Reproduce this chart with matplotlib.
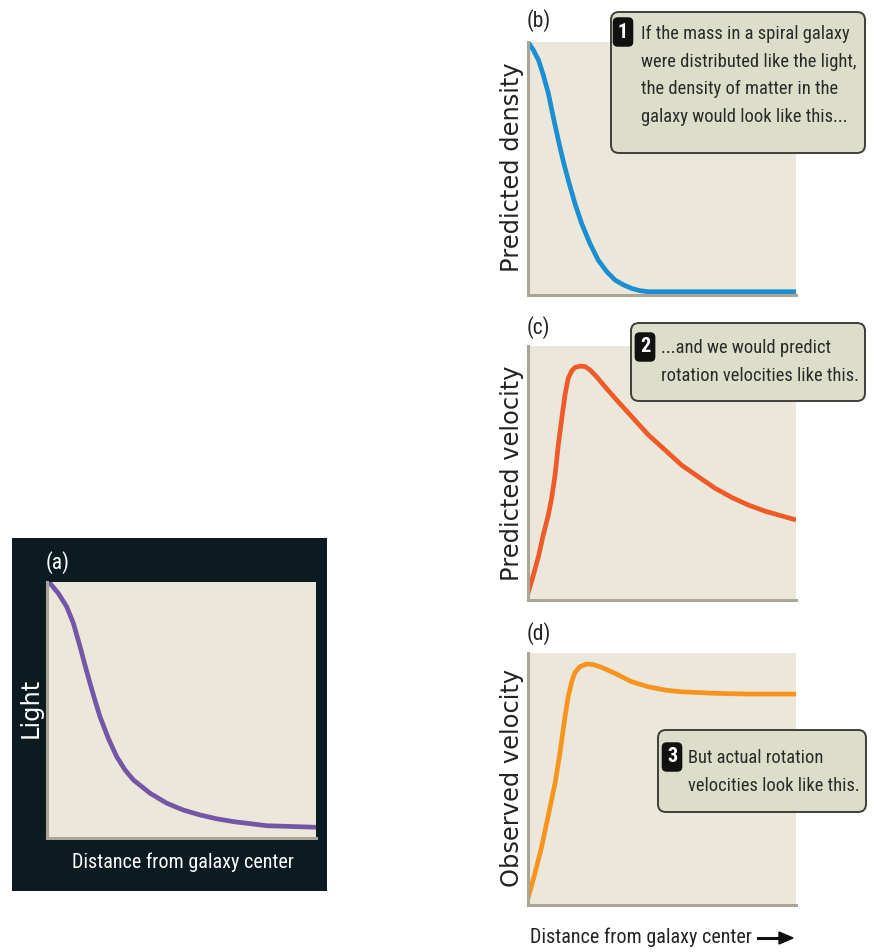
import matplotlib
matplotlib.use("Agg")
import matplotlib.pyplot as plt
from matplotlib import font_manager
from matplotlib.patches import FancyBboxPatch, Rectangle

# curve samples, distance from centre (0..1) vs. normalised value
light_x = [0, 0.011, 0.042, 0.073, 0.098, 0.123, 0.141, 0.16, 0.178, 0.197, 0.228, 0.259, 0.29,
           0.321, 0.383, 0.445, 0.507, 0.569, 0.631, 0.693, 0.817, 1.0]
light_y = [1.0, 0.995, 0.956, 0.904, 0.839, 0.747, 0.676, 0.604, 0.539, 0.474, 0.389, 0.318, 0.266,
           0.227, 0.175, 0.136, 0.109, 0.09, 0.075, 0.064, 0.048, 0.042]

dens_x = [0, 0.02, 0.039, 0.057, 0.076, 0.094, 0.113, 0.132, 0.15, 0.175, 0.2, 0.231, 0.262,
          0.294, 0.325, 0.356, 0.387, 0.418, 0.449, 0.55, 0.7, 1.0]
dens_y = [1.0, 0.968, 0.929, 0.87, 0.797, 0.705, 0.613, 0.527, 0.455, 0.362, 0.283, 0.204, 0.138,
          0.092, 0.059, 0.04, 0.026, 0.017, 0.013, 0.013, 0.013, 0.013]

pred_x = [0, 0.02, 0.039, 0.057, 0.076, 0.088, 0.101, 0.113, 0.126, 0.138, 0.15, 0.163, 0.175,
          0.194, 0.213, 0.231, 0.256, 0.287, 0.325, 0.387, 0.449, 0.511, 0.573, 0.636, 0.698,
          0.76, 0.822, 0.884, 0.947, 1.0]
pred_y = [0.026, 0.098, 0.171, 0.256, 0.335, 0.4, 0.492, 0.61, 0.715, 0.807, 0.873, 0.902, 0.915,
          0.921, 0.919, 0.906, 0.879, 0.84, 0.794, 0.722, 0.65, 0.591, 0.531, 0.485, 0.44,
          0.404, 0.374, 0.35, 0.331, 0.315]

obs_x = [0, 0.026, 0.051, 0.076, 0.101, 0.119, 0.138, 0.15, 0.163, 0.175, 0.194, 0.219, 0.244,
         0.275, 0.325, 0.387, 0.449, 0.511, 0.573, 0.698, 0.822, 1.0]
obs_y = [0.027, 0.126, 0.231, 0.357, 0.483, 0.602, 0.747, 0.827, 0.886, 0.922, 0.946, 0.956, 0.954,
         0.943, 0.919, 0.886, 0.866, 0.853, 0.846, 0.84, 0.837, 0.837]

panel_tags = ["(a)", "(b)", "(c)", "(d)"]
y_labels = ["Light", "Predicted density", "Predicted velocity", "Observed velocity"]
x_label = "Distance from galaxy center"

note1 = ["If the mass in a spiral galaxy", "were distributed like the light,",
         "the density of matter in the", "galaxy would look like this..."]
note2 = ["...and we would predict", "rotation velocities like this."]
note3 = ["But actual rotation", "velocities look like this."]

W, H = 874, 952
BG = "#ebe8db"
SPINE = "#a9a697"
DARK = "#0c1a22"
INK = "#232323"

installed = {f.name for f in font_manager.fontManager.ttflist}
NARROW = next((n for n in ["Roboto Condensed", "Liberation Sans Narrow", "Open Sans Condensed"]
               if n in installed), "Liberation Sans")
WIDE = "DejaVu Sans"
NOTE_SIZE = 13.3
XLAB_SIZE = 14.5
TAG_SIZE = 15.5
YLAB_SIZE = 17.4

fig = plt.figure(figsize=(W / 100, H / 100), dpi=100)
fig.patch.set_facecolor("white")


def box(x0, y0, x1, y1):
    # pixel rectangle (top-left origin) -> figure fraction
    return [x0 / W, 1 - y1 / H, (x1 - x0) / W, (y1 - y0) / H]


def fx(x):
    return x / W


def fy(y):
    return 1 - y / H


def panel(rect, xs, ys, color):
    ax = fig.add_axes(box(*rect))
    ax.set_facecolor(BG)
    ax.plot(xs, ys, color=color, lw=3.4, solid_capstyle="butt", solid_joinstyle="round")
    ax.set_xlim(0, 1)
    ax.set_ylim(0, 1)
    ax.set_xticks([])
    ax.set_yticks([])
    for s in ("top", "right"):
        ax.spines[s].set_visible(False)
    for s in ("left", "bottom"):
        ax.spines[s].set_color(SPINE)
        ax.spines[s].set_linewidth(2.2)
    return ax


# dark backdrop behind panel (a)
fig.patches.append(Rectangle((fx(12), fy(891)), fx(327) - fx(12), fy(538) - fy(891),
                             transform=fig.transFigure, facecolor=DARK, edgecolor="none", zorder=-1))

panel((47, 582, 316, 838), light_x, light_y, "#7556a6")
panel((528, 42, 796, 295), dens_x, dens_y, "#1b8fd2")
panel((528, 346, 796, 600), pred_x, pred_y, "#f05a28")
panel((528, 653, 796, 905), obs_x, obs_y, "#f7941d")

# panel tags
tag_pos = [(46, 563, "white"), (527, 21, INK), (527, 328, INK), (527, 634, INK)]
for tag, (x, y, c) in zip(panel_tags, tag_pos):
    fig.text(fx(x), fy(y), tag, color=c, family=NARROW, fontsize=TAG_SIZE, va="center")

# y labels
ylab_pos = [(31, 708, "white"), (512, 167, INK), (512, 473, INK), (512, 778, INK)]
for lab, (x, y, c) in zip(y_labels, ylab_pos):
    fig.text(fx(x), fy(y), lab, color=c, family=WIDE, fontsize=YLAB_SIZE,
             rotation=90, ha="center", va="center")

# x labels
fig.text(fx(183), fy(862), x_label, color="white", family=NARROW, fontsize=XLAB_SIZE,
         ha="center", va="center")
fig.text(fx(641), fy(937), x_label, color=INK, family=NARROW, fontsize=XLAB_SIZE,
         ha="center", va="center")
fig.add_artist(plt.Line2D([fx(758), fx(783)], [fy(938), fy(938)], transform=fig.transFigure,
                          color="#111111", lw=2.2))
fig.patches.append(plt.Polygon([[fx(779), fy(932)], [fx(793), fy(938)], [fx(779), fy(944)]],
                               closed=True, transform=fig.transFigure, color="#111111"))


def callout(rect, num, badge_xy, lines, text_x, first_y, step):
    x0, y0, x1, y1 = rect
    p = FancyBboxPatch((x0 / 100, (H - y1) / 100), (x1 - x0) / 100, (y1 - y0) / 100,
                       boxstyle="round,pad=0,rounding_size=0.08",
                       transform=fig.dpi_scale_trans, facecolor="#dcdec9",
                       edgecolor="#3f3f39", lw=1.4, zorder=4)
    fig.patches.append(p)
    fig.text(fx(badge_xy[0]), fy(badge_xy[1]), num, color="white", family=NARROW,
             fontsize=14.5, fontweight="bold", ha="center", va="center", zorder=6,
             bbox=dict(boxstyle="round,pad=0.26,rounding_size=0.25", fc="#111111", ec="none"))
    for i, line in enumerate(lines):
        fig.text(fx(text_x), fy(first_y + i * step), line, color="#2a2a2a", family=NARROW,
                 fontsize=NOTE_SIZE, ha="left", va="center", zorder=6)


callout((611, 12, 865, 153), "1", (623, 32), note1, 641, 34, 27.7)
callout((631, 323, 865, 401), "2", (645, 347), note2, 661, 348, 27.7)
callout((658, 730, 866, 812), "3", (672, 757), note3, 688, 758, 27.7)

fig.savefig("out.png", dpi=100, facecolor="white")
